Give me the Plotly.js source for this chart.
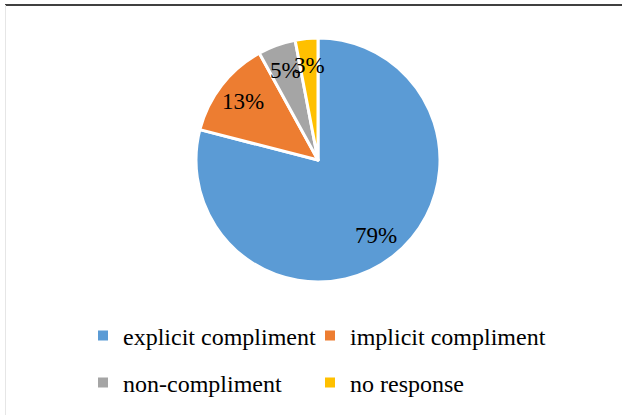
<!DOCTYPE html>
<html>
<head>
<meta charset="utf-8">
<script src="https://cdn.plot.ly/plotly-3.0.1.min.js"></script>
<style>
  html, body { margin: 0; padding: 0; background: #fff; }
  #chart { width: 622px; height: 415px; }
</style>
</head>
<body>
<div id="chart"></div>
<script>
// Response categories and their shares (%)
const categories = ['explicit compliment', 'implicit compliment', 'non-compliment', 'no response'];
const shares = [79, 13, 5, 3];
const colors = ['#5B9BD5', '#ED7D31', '#A5A5A5', '#FFC000'];

const W = 622, H = 415;
const px = x => x / W;
const py = y => 1 - y / H;
const serif = 'Liberation Serif, Times New Roman, serif';

// Pie placement (pixels) and where the percentage labels sit along each slice's bisector
const cx = 318, cy = 160, R = 122;
const labelRadius = 0.78;

const pie = {
  type: 'pie',
  labels: categories,
  values: shares,
  sort: false,
  direction: 'clockwise',
  rotation: 0,
  marker: { colors: colors, line: { color: '#ffffff', width: 3 } },
  textinfo: 'none',
  textposition: 'none',
  domain: { x: [px(cx - R), px(cx + R)], y: [py(cy + R), py(cy - R)] },
  showlegend: false,
  hoverinfo: 'label+percent'
};

// Percentage labels placed at each slice's mid-angle (clockwise from 12 o'clock)
const total = shares.reduce((a, b) => a + b, 0);
let cum = 0;
const labelAnnotations = shares.map(v => {
  const mid = (cum + v / 2) / total * 2 * Math.PI;
  cum += v;
  const r = R * labelRadius;
  return {
    xref: 'paper', yref: 'paper',
    x: px(cx + r * Math.sin(mid)),
    y: py(cy - r * Math.cos(mid)),
    text: Math.round(v / total * 100) + '%',
    showarrow: false,
    xanchor: 'center', yanchor: 'middle',
    font: { family: serif, size: 23, color: '#000000' }
  };
});

// Legend: one single-entry legend per slice, laid out as two rows of two
const colX = [83, 310];
const rowY = [336, 383];
const legendProxies = categories.map((name, i) => ({
  type: 'scatter',
  mode: 'markers',
  x: [null], y: [null],
  name: name,
  marker: { symbol: 'square', size: 10, color: colors[i] },
  legend: i === 0 ? 'legend' : 'legend' + (i + 1),
  hoverinfo: 'skip'
}));

const layout = {
  width: W, height: H,
  margin: { l: 0, r: 0, t: 0, b: 0 },
  paper_bgcolor: '#ffffff',
  plot_bgcolor: '#ffffff',
  xaxis: { visible: false, fixedrange: true },
  yaxis: { visible: false, fixedrange: true },
  annotations: labelAnnotations,
  shapes: [
    // frame: dark top rule, faint left rule
    { type: 'line', xref: 'paper', yref: 'paper', x0: px(5), x1: 1, y0: py(5), y1: py(5),
      line: { color: '#000000', width: 1.5 } },
    { type: 'line', xref: 'paper', yref: 'paper', x0: px(5.5), x1: px(5.5), y0: py(5), y1: 0,
      line: { color: '#e6e6e6', width: 1 } }
  ]
};

categories.forEach((_, i) => {
  layout[i === 0 ? 'legend' : 'legend' + (i + 1)] = {
    orientation: 'h',
    xanchor: 'left',
    yanchor: 'middle',
    x: px(colX[i % 2]),
    y: py(rowY[Math.floor(i / 2)]),
    itemwidth: 30,
    font: { family: serif, size: 24, color: '#000000' },
    bgcolor: 'rgba(0,0,0,0)',
    borderwidth: 0
  };
});

Plotly.newPlot('chart', [pie].concat(legendProxies), layout, { displayModeBar: false, staticPlot: true });
</script>
</body>
</html>
